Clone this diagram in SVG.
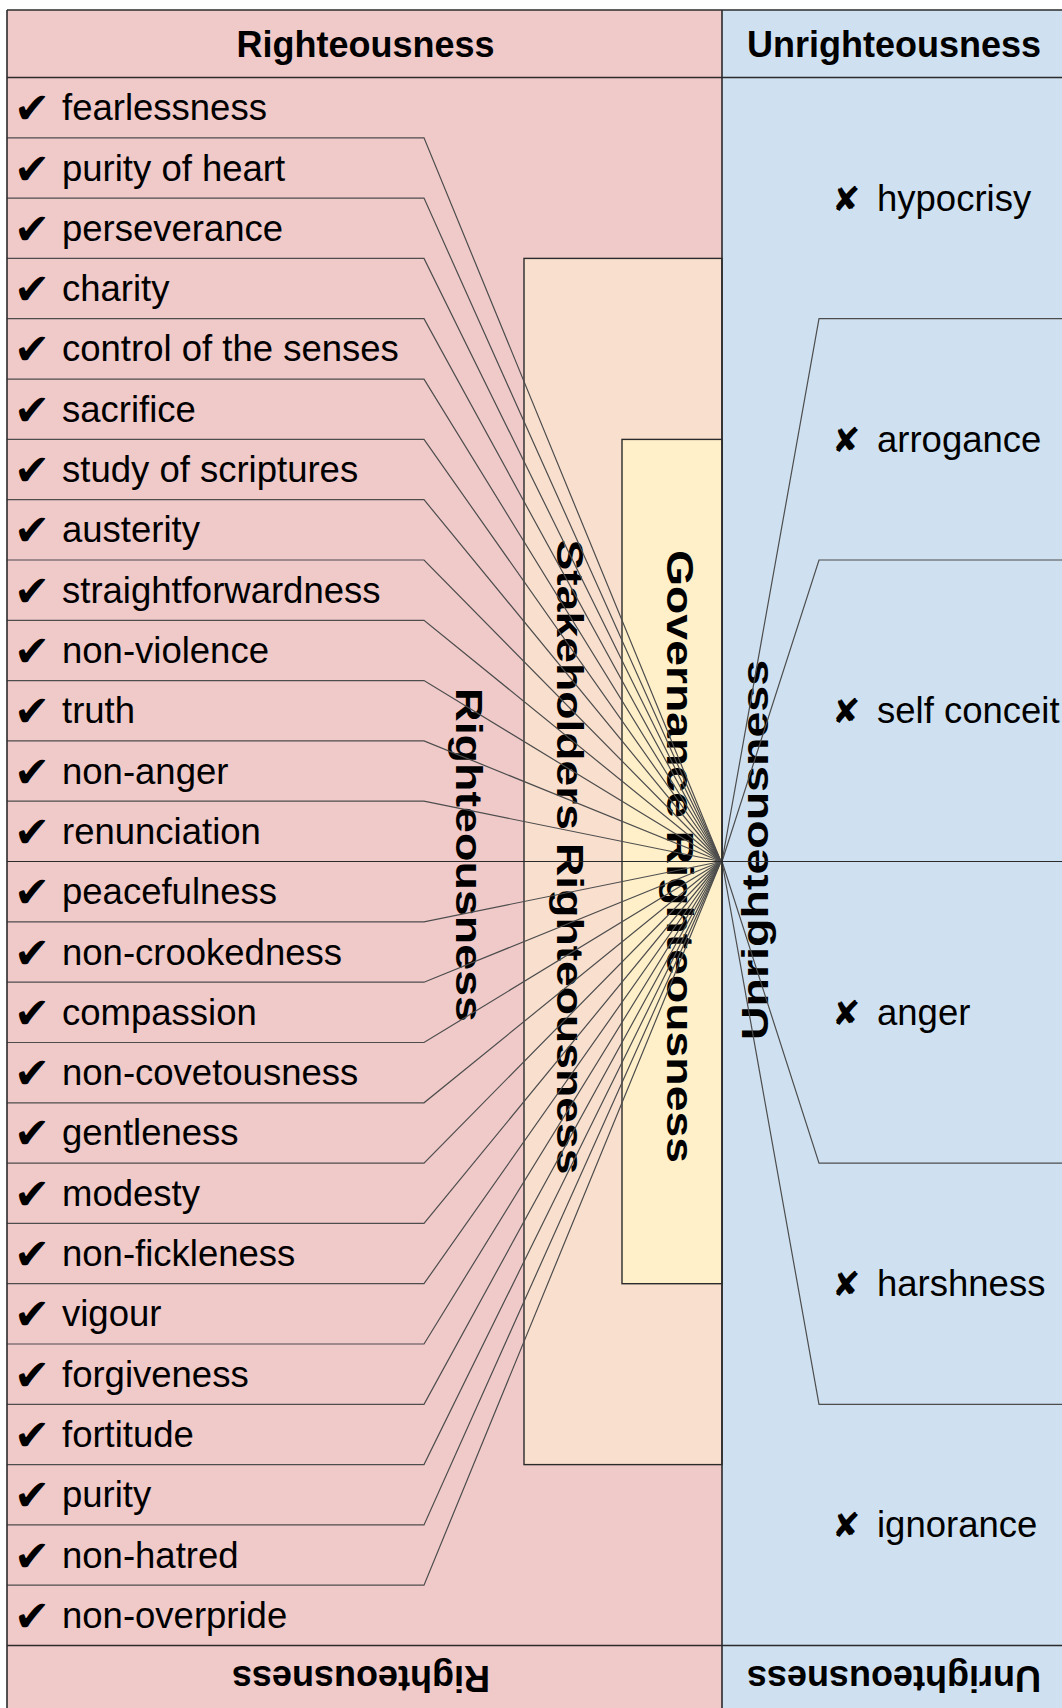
<svg xmlns="http://www.w3.org/2000/svg" width="1062" height="1708" viewBox="0 0 1062 1708">
<style>
.t{font-family:"Liberation Sans",Arial,sans-serif;font-size:36.5px;fill:#000}
.b{font-weight:bold;font-size:36px}
.ck{font-family:"DejaVu Sans",sans-serif;font-size:43px}
.cx{font-family:"DejaVu Sans",sans-serif;font-size:34px}
.conn{fill:none;stroke:#4d4d4d;stroke-width:1.2}
.grid{fill:none;stroke:#2b2b2b;stroke-width:1.6}
.box{stroke:#2b2b2b;stroke-width:1.4}
</style>
<rect x="0" y="0" width="1062" height="1708" fill="#ffffff"/>
<g id="col-righteousness"><rect x="7" y="10" width="715" height="1710" fill="#f0c9c9"/></g>
<g id="col-unrighteousness"><rect x="722" y="10" width="345" height="1710" fill="#cfe1f1"/></g>
<g id="stakeholders"><rect class="box" x="524" y="258.4" width="198" height="1206.2" fill="#f9dfce"/>
<text class="t b" transform="translate(557,857) rotate(90)" text-anchor="middle" textLength="635" lengthAdjust="spacingAndGlyphs">Stakeholders Righteousness</text></g>
<g id="governance"><rect class="box" x="622" y="439.4" width="100" height="844.3" fill="#fff0ca"/>
<text class="t b" transform="translate(667,856.5) rotate(90)" text-anchor="middle" textLength="613" lengthAdjust="spacingAndGlyphs">Governance Righteousness</text></g>
<g id="label-righteousness"><text class="t b" transform="translate(456,855) rotate(90)" text-anchor="middle" textLength="334" lengthAdjust="spacingAndGlyphs">Righteousness</text></g>
<g id="label-unrighteousness"><text class="t b" transform="translate(768,850) rotate(-90)" text-anchor="middle" textLength="380" lengthAdjust="spacingAndGlyphs">Unrighteousness</text></g>
<g id="header">
<text class="t b" x="365.5" y="56.5" text-anchor="middle">Righteousness</text>
<text class="t b" x="894" y="56.5" text-anchor="middle">Unrighteousness</text>
</g>
<g id="footer">
<text class="t b" x="361" y="1692" text-anchor="middle" transform="rotate(180 361 1679)">Righteousness</text>
<text class="t b" x="894" y="1692" text-anchor="middle" transform="rotate(180 894 1679)">Unrighteousness</text>
</g>
<g id="virtues">
<g id="v1"><text class="t" y="120.2"><tspan class="ck" x="14" dy="3">✔</tspan><tspan x="62" dy="-3">fearlessness</tspan></text></g>
<g id="v2"><text class="t" y="180.5"><tspan class="ck" x="14" dy="3">✔</tspan><tspan x="62" dy="-3">purity of heart</tspan></text></g>
<g id="v3"><text class="t" y="240.8"><tspan class="ck" x="14" dy="3">✔</tspan><tspan x="62" dy="-3">perseverance</tspan></text></g>
<g id="v4"><text class="t" y="301.1"><tspan class="ck" x="14" dy="3">✔</tspan><tspan x="62" dy="-3">charity</tspan></text></g>
<g id="v5"><text class="t" y="361.4"><tspan class="ck" x="14" dy="3">✔</tspan><tspan x="62" dy="-3">control of the senses</tspan></text></g>
<g id="v6"><text class="t" y="421.7"><tspan class="ck" x="14" dy="3">✔</tspan><tspan x="62" dy="-3">sacrifice</tspan></text></g>
<g id="v7"><text class="t" y="482.1"><tspan class="ck" x="14" dy="3">✔</tspan><tspan x="62" dy="-3">study of scriptures</tspan></text></g>
<g id="v8"><text class="t" y="542.4"><tspan class="ck" x="14" dy="3">✔</tspan><tspan x="62" dy="-3">austerity</tspan></text></g>
<g id="v9"><text class="t" y="602.7"><tspan class="ck" x="14" dy="3">✔</tspan><tspan x="62" dy="-3">straightforwardness</tspan></text></g>
<g id="v10"><text class="t" y="663.0"><tspan class="ck" x="14" dy="3">✔</tspan><tspan x="62" dy="-3">non-violence</tspan></text></g>
<g id="v11"><text class="t" y="723.3"><tspan class="ck" x="14" dy="3">✔</tspan><tspan x="62" dy="-3">truth</tspan></text></g>
<g id="v12"><text class="t" y="783.6"><tspan class="ck" x="14" dy="3">✔</tspan><tspan x="62" dy="-3">non-anger</tspan></text></g>
<g id="v13"><text class="t" y="843.9"><tspan class="ck" x="14" dy="3">✔</tspan><tspan x="62" dy="-3">renunciation</tspan></text></g>
<g id="v14"><text class="t" y="904.2"><tspan class="ck" x="14" dy="3">✔</tspan><tspan x="62" dy="-3">peacefulness</tspan></text></g>
<g id="v15"><text class="t" y="964.5"><tspan class="ck" x="14" dy="3">✔</tspan><tspan x="62" dy="-3">non-crookedness</tspan></text></g>
<g id="v16"><text class="t" y="1024.8"><tspan class="ck" x="14" dy="3">✔</tspan><tspan x="62" dy="-3">compassion</tspan></text></g>
<g id="v17"><text class="t" y="1085.1"><tspan class="ck" x="14" dy="3">✔</tspan><tspan x="62" dy="-3">non-covetousness</tspan></text></g>
<g id="v18"><text class="t" y="1145.4"><tspan class="ck" x="14" dy="3">✔</tspan><tspan x="62" dy="-3">gentleness</tspan></text></g>
<g id="v19"><text class="t" y="1205.7"><tspan class="ck" x="14" dy="3">✔</tspan><tspan x="62" dy="-3">modesty</tspan></text></g>
<g id="v20"><text class="t" y="1266.0"><tspan class="ck" x="14" dy="3">✔</tspan><tspan x="62" dy="-3">non-fickleness</tspan></text></g>
<g id="v21"><text class="t" y="1326.4"><tspan class="ck" x="14" dy="3">✔</tspan><tspan x="62" dy="-3">vigour</tspan></text></g>
<g id="v22"><text class="t" y="1386.7"><tspan class="ck" x="14" dy="3">✔</tspan><tspan x="62" dy="-3">forgiveness</tspan></text></g>
<g id="v23"><text class="t" y="1447.0"><tspan class="ck" x="14" dy="3">✔</tspan><tspan x="62" dy="-3">fortitude</tspan></text></g>
<g id="v24"><text class="t" y="1507.3"><tspan class="ck" x="14" dy="3">✔</tspan><tspan x="62" dy="-3">purity</tspan></text></g>
<g id="v25"><text class="t" y="1567.6"><tspan class="ck" x="14" dy="3">✔</tspan><tspan x="62" dy="-3">non-hatred</tspan></text></g>
<g id="v26"><text class="t" y="1627.9"><tspan class="ck" x="14" dy="3">✔</tspan><tspan x="62" dy="-3">non-overpride</tspan></text></g>
</g>
<g id="vices">
<g id="x1"><text class="t" y="210.6"><tspan class="cx" x="832">✘</tspan><tspan x="877">hypocrisy</tspan></text></g>
<g id="x2"><text class="t" y="451.9"><tspan class="cx" x="832">✘</tspan><tspan x="877">arrogance</tspan></text></g>
<g id="x3"><text class="t" y="723.3"><tspan class="cx" x="832">✘</tspan><tspan x="877">self conceit</tspan></text></g>
<g id="x4"><text class="t" y="1024.8"><tspan class="cx" x="832">✘</tspan><tspan x="877">anger</tspan></text></g>
<g id="x5"><text class="t" y="1296.2"><tspan class="cx" x="832">✘</tspan><tspan x="877">harshness</tspan></text></g>
<g id="x6"><text class="t" y="1537.4"><tspan class="cx" x="832">✘</tspan><tspan x="877">ignorance</tspan></text></g>
</g>
<g id="connectors" class="conn">
<path d="M7 137.8H424L721 861.5"/>
<path d="M7 198.1H424L721 861.5"/>
<path d="M7 258.4H424L721 861.5"/>
<path d="M7 318.7H424L721 861.5"/>
<path d="M7 379.1H424L721 861.5"/>
<path d="M7 439.4H424L721 861.5"/>
<path d="M7 499.7H424L721 861.5"/>
<path d="M7 560.0H424L721 861.5"/>
<path d="M7 620.3H424L721 861.5"/>
<path d="M7 680.6H424L721 861.5"/>
<path d="M7 740.9H424L721 861.5"/>
<path d="M7 801.2H424L721 861.5"/>
<path d="M7 921.8H424L721 861.5"/>
<path d="M7 982.2H424L721 861.5"/>
<path d="M7 1042.5H424L721 861.5"/>
<path d="M7 1102.8H424L721 861.5"/>
<path d="M7 1163.1H424L721 861.5"/>
<path d="M7 1223.4H424L721 861.5"/>
<path d="M7 1283.7H424L721 861.5"/>
<path d="M7 1344.0H424L721 861.5"/>
<path d="M7 1404.3H424L721 861.5"/>
<path d="M7 1464.6H424L721 861.5"/>
<path d="M7 1524.9H424L721 861.5"/>
<path d="M7 1585.2H424L721 861.5"/>
<path d="M1066 318.7H819L722 861.5"/>
<path d="M1066 560.0H819L722 861.5"/>
<path d="M1066 1163.1H819L722 861.5"/>
<path d="M1066 1404.3H819L722 861.5"/>
<path d="M7 861.5H1066" stroke="#2b2b2b"/>
</g>
<g id="grid" class="grid">
<path d="M7 10H1066"/>
<path d="M7 10V1720"/>
<path d="M722 10V1720"/>
<path d="M7 77.5H1066"/>
<path d="M7 1645.5H1066"/>
</g>
</svg>
